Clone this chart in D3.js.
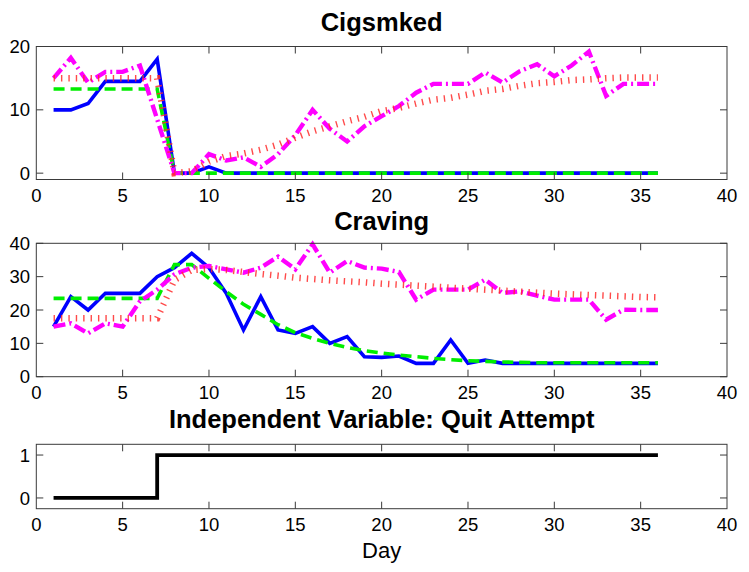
<!DOCTYPE html>
<html>
<head>
<meta charset="utf-8">
<script src="https://cdn.jsdelivr.net/npm/d3@7"></script>
<style>
  html, body { margin: 0; padding: 0; background: #fff; }
  svg { display: block; }
  text { font-family: "Liberation Sans", Arial, Helvetica, sans-serif; fill: #000; }
</style>
</head>
<body>
<svg id="chart" width="749" height="572"></svg>
<script>
// ---------------- data ----------------
const days = [1,2,3,4,5,6,7,8,9,10,11,12,13,14,15,16,17,18,19,20,21,22,23,24,25,26,27,28,29,30,31,32,33,34,35,36];

// Cigsmked panel
const cigsObserved = [10,10,11,14.5,14.5,14.5,18,0,0,1,0,0,0,0,0,0,0,0,0,0,0,0,0,0,0,0,0,0,0,0,0,0,0,0,0,0];
const cigsFit      = [13.3,13.3,13.3,13.3,13.3,13.3,13.3,0,0,0,0,0,0,0,0,0,0,0,0,0,0,0,0,0,0,0,0,0,0,0,0,0,0,0,0,0];
const cigsOther    = [15,18.2,14.3,16,16,17,8.5,0,0,3,2,2.5,1,3,6,10,7,5,7.4,9,10.6,12.7,14.1,14.1,14.1,15.9,14.3,16.1,17.2,15.3,17,19.2,12.2,14.1,14.1,14.1];
const cigsOtherFit = [15,15,15,15,15,15,15,0,0.3,1.8,2.7,3.1,3.7,4.5,5.6,6.6,7.4,8.2,8.9,9.8,10.3,11,11.6,11.9,12.4,13,13.3,13.8,14.2,14.4,14.7,14.8,15,15.1,15.1,15.1];

// Craving panel
const cravObserved = [15,24,20,25,25,25,30,32.7,37,32.7,25,14,24,14,13,15,10,12,6,5.8,6.2,4,4,11,4,5,4,4,4,4,4,4,4,4,4,4];
const cravFit      = [23.5,23.5,23.5,23.5,23.5,23.5,23.5,33.6,33.6,29.5,25.5,21.7,18.7,15.6,13.2,11.5,10,8.8,7.8,7.1,6.5,6,5.5,5.1,4.8,4.6,4.4,4.3,4.2,4.2,4.2,4.2,4.2,4.2,4.2,4.2];
const cravOther    = [15,16,13,16,15,22.6,26.1,30.7,32.7,33.2,32.2,31.2,32.7,36,32.2,39.7,31.2,34.7,32.7,32.4,31.4,23.1,26.1,26.1,26.1,29.1,25.1,25.6,24.3,23.1,23.1,23.1,17.1,20.1,20,20];
const cravOtherFit = [17.5,17.5,17.5,17.5,17.5,17.5,17.5,29,32,32.3,32,31.4,30.8,30.3,29.7,29.3,28.9,28.6,28.3,27.9,27.6,27.3,27,26.7,26.4,26.1,25.8,25.5,25.2,24.9,24.7,24.5,24.3,24.1,23.9,23.8];

// Independent variable: quit attempt (0 = before, 1 = after)
const quitAttempt = [0,0,0,0,0,0,1,1,1,1,1,1,1,1,1,1,1,1,1,1,1,1,1,1,1,1,1,1,1,1,1,1,1,1,1,1];

// tick labels
const xTicks = [0,5,10,15,20,25,30,35,40];
const cigsTicks = [0,10,20];
const cravTicks = [0,10,20,30,40];
const quitTicks = [0,1];

const titles = ["Cigsmked", "Craving", "Independent Variable: Quit Attempt"];
const xLabel = "Day";

// ---------------- drawing ----------------
const svg = d3.select("#chart");
svg.append("rect").attr("width", 749).attr("height", 572).attr("fill", "#fff");

const x = d3.scaleLinear().domain([0, 40]).range([36.3, 727]);
const frameColor = "#3a3a3a";
const tickLen = 7;

const styles = {
  observed: { stroke: "#0000ff", width: 3.6, dash: null, opacity: 1 },
  fit:      { stroke: "#00ee00", width: 3.6, dash: "11,6", opacity: 1 },
  other:    { stroke: "#ff00ff", width: 4.4, dash: "12,4,2,4", opacity: 1 },
  otherFit: { stroke: "#ff2a2a", width: 6.5, dash: "1.4,6", opacity: 0.85 },
  quit:     { stroke: "#000000", width: 3.8, dash: null, opacity: 1 }
};

function panel(opts) {
  const y = d3.scaleLinear().domain(opts.yDomain).range([opts.bottom, opts.top]);
  const g = svg.append("g");
  const [x0, x1] = x.range();

  // title
  g.append("text")
    .attr("x", (x0 + x1) / 2)
    .attr("y", opts.top - opts.titleGap)
    .attr("text-anchor", "middle")
    .style("font-size", "25.5px")
    .style("font-weight", "bold")
    .text(opts.title);

  // series
  const lineGen = d3.line()
    .x((d, i) => x(days[i]))
    .y(d => y(d))
    .curve(opts.curve || d3.curveLinear);
  opts.series.forEach(s => {
    const st = styles[s.style];
    g.append("path")
      .datum(s.values)
      .attr("d", lineGen)
      .attr("fill", "none")
      .attr("stroke", st.stroke)
      .attr("stroke-width", st.width)
      .attr("stroke-opacity", st.opacity)
      .attr("stroke-dasharray", st.dash)
      .attr("stroke-linejoin", "miter")
      .attr("stroke-linecap", "butt");
  });

  // frame
  g.append("rect")
    .attr("x", x0).attr("y", opts.top)
    .attr("width", x1 - x0).attr("height", opts.bottom - opts.top)
    .attr("fill", "none").attr("stroke", frameColor).attr("stroke-width", 1);

  // x ticks (bottom and top, inward)
  xTicks.forEach(t => {
    const px = x(t);
    if (t > 0 && t < 40) {
      g.append("line").attr("x1", px).attr("x2", px)
        .attr("y1", opts.bottom).attr("y2", opts.bottom - tickLen)
        .attr("stroke", frameColor).attr("stroke-width", 1);
      g.append("line").attr("x1", px).attr("x2", px)
        .attr("y1", opts.top).attr("y2", opts.top + tickLen)
        .attr("stroke", frameColor).attr("stroke-width", 1);
    }
    g.append("text")
      .attr("x", px)
      .attr("y", opts.bottom + 22.5)
      .attr("text-anchor", "middle")
      .style("font-size", "18.5px")
      .text(t);
  });

  // y ticks (left and right, inward)
  opts.yTicks.forEach(t => {
    const py = y(t);
    g.append("line").attr("x1", x0).attr("x2", x0 + tickLen)
      .attr("y1", py).attr("y2", py)
      .attr("stroke", frameColor).attr("stroke-width", 1);
    g.append("line").attr("x1", x1).attr("x2", x1 - tickLen)
      .attr("y1", py).attr("y2", py)
      .attr("stroke", frameColor).attr("stroke-width", 1);
    g.append("text")
      .attr("x", 30)
      .attr("y", py + 6.6)
      .attr("text-anchor", "end")
      .style("font-size", "18.5px")
      .text(t);
  });
  return g;
}

panel({
  title: titles[0], titleGap: 15.5, top: 46.5, bottom: 179.5, yDomain: [-1, 20], yTicks: cigsTicks,
  series: [
    { values: cigsObserved, style: "observed" },
    { values: cigsFit, style: "fit" },
    { values: cigsOther, style: "other" },
    { values: cigsOtherFit, style: "otherFit" }
  ]
});

panel({
  title: titles[1], titleGap: 13.5, top: 243.3, bottom: 376.7, yDomain: [0, 40], yTicks: cravTicks,
  series: [
    { values: cravObserved, style: "observed" },
    { values: cravFit, style: "fit" },
    { values: cravOther, style: "other" },
    { values: cravOtherFit, style: "otherFit" }
  ]
});

panel({
  title: titles[2], titleGap: 16, top: 444.3, bottom: 508.7, yDomain: [-0.25, 1.25], yTicks: quitTicks,
  curve: d3.curveStepAfter,
  series: [
    { values: quitAttempt, style: "quit" }
  ]
});

svg.append("text")
  .attr("x", (x.range()[0] + x.range()[1]) / 2)
  .attr("y", 558)
  .attr("text-anchor", "middle")
  .style("font-size", "22px")
  .text(xLabel);
</script>
</body>
</html>
